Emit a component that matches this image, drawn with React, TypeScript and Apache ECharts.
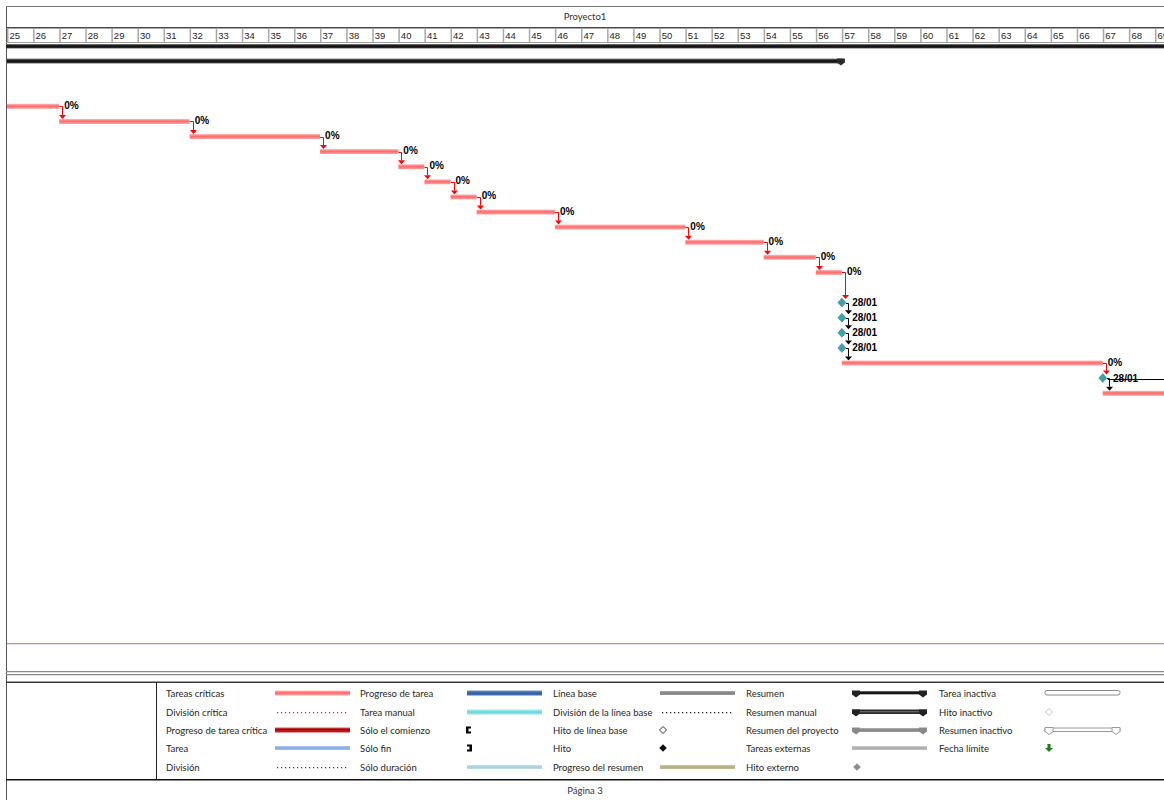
import React, { useEffect, useRef } from "react";
import * as echarts from "echarts";

// ---------- data ----------
const weeks = [25, 26, 27, 28, 29, 30, 31, 32, 33, 34, 35, 36, 37, 38, 39, 40, 41, 42, 43, 44, 45, 46, 47, 48, 49, 50, 51, 52, 53, 54, 55, 56, 57, 58, 59, 60, 61, 62, 63, 64, 65, 66, 67, 68, 69];

const taskRows = [3, 4, 5, 6, 7, 8, 9, 10, 11, 12, 13, 14, 20, 22];
const taskStarts = [23, 27, 32, 37, 40, 41, 42, 43, 46, 51, 54, 56, 57, 67];
const taskEnds = [27, 32, 37, 40, 41, 42, 43, 46, 51, 54, 56, 57, 67, 72];
// last bar continues on the next page: its label is not on this page
const taskLabels = ["0%", "0%", "0%", "0%", "0%", "0%", "0%", "0%", "0%", "0%", "0%", "0%", "0%", ""];

const summaryRows = [0];
const summaryStarts = [20];
const summaryEnds = [57];

const milestoneRows = [16, 17, 18, 19, 21];
const milestoneWeeks = [57, 57, 57, 57, 67];
const milestoneLabels = ["28/01", "28/01", "28/01", "28/01", "28/01"];

// kind: 0 = from critical task (red), 1 = from milestone (black), 2 = off-page link
const linkWeeks = [27, 32, 37, 40, 41, 42, 43, 46, 51, 54, 56, 57, 57, 57, 57, 57, 67, 67, 67];
const linkFrom = [3, 4, 5, 6, 7, 8, 9, 10, 11, 12, 13, 14, 16, 17, 18, 19, 20, 21, 21];
const linkTo = [4, 5, 6, 7, 8, 9, 10, 11, 12, 13, 14, 16, 17, 18, 19, 20, 21, 22, 21];
const linkKinds = [0, 0, 0, 0, 0, 0, 0, 0, 0, 0, 0, 0, 1, 1, 1, 1, 0, 1, 2];

const legendNames = [
  ["Tareas críticas", "División crítica", "Progreso de tarea crítica", "Tarea", "División"],
  ["Progreso de tarea", "Tarea manual", "Sólo el comienzo", "Sólo fin", "Sólo duración"],
  ["Línea base", "División de la línea base", "Hito de línea base", "Hito", "Progreso del resumen"],
  ["Resumen", "Resumen manual", "Resumen del proyecto", "Tareas externas", "Hito externo"],
  ["Tarea inactiva", "Hito inactivo", "Resumen inactivo", "Fecha límite"],
];
const legendKinds = [
  ["critBar", "critSplit", "critProg", "taskBar", "split"],
  ["progBar", "manualBar", "startOnly", "finishOnly", "durOnly"],
  ["baseBar", "baseSplit", "baseMile", "mile", "sumProg"],
  ["summary", "manualSummary", "projSummary", "external", "extMile"],
  ["inactiveTask", "inactiveMile", "inactiveSummary", "deadline"],
];

// ---------- layout constants ----------
const W = 1164;
const H = 800;
const ROW = 15.1;
const GRID_LEFT = 7;
const GRID_W = 1157;
const X_MIN = 25;
const X_MAX = 69.346;
const Y_MIN = -0.5;
const Y_MAX = 38.5;
const GRID_TOP = 61 + Y_MIN * ROW;

const LEG_FONT = "Lato";
const MONO = "Liberation Sans";

const grad = (stops: [number, string][]) =>
  new echarts.graphic.LinearGradient(0, 0, 0, 1, stops.map(([o, c]) => ({ offset: o, color: c })));

const critGrad = () => grad([[0, "#ffbcbc"], [0.45, "#ff6868"], [1, "#ffa4a4"]]);
const darkGrad = () => grad([[0, "#8a8a8a"], [0.35, "#1a1a1a"], [0.7, "#111"], [1, "#6a6a6a"]]);

function clip(r: any, cs: any) {
  return echarts.graphic.clipRectByRect(r, { x: cs.x, y: cs.y, width: cs.width, height: cs.height });
}

function capPoly(cx: number, top: number, color: string, stroke?: string) {
  const style: any = { fill: color };
  if (stroke) { style.stroke = stroke; style.lineWidth = 1; }
  return {
    type: "polygon",
    shape: { points: [[cx - 4, top], [cx + 4, top], [cx + 4, top + 4], [cx, top + 7], [cx - 4, top + 4]] },
    style,
  };
}

function diamond(cx: number, cy: number, r: number, fill: string, stroke?: string) {
  const style: any = { fill };
  if (stroke) { style.stroke = stroke; style.lineWidth = 1; }
  return {
    type: "polygon",
    shape: { points: [[cx, cy - r], [cx + r, cy], [cx, cy + r], [cx - r, cy]] },
    style,
  };
}

const hRect = (x1: number, x2: number, y: number, color: string, t = 1) => ({
  type: "rect", shape: { x: x1, y, width: x2 - x1, height: t }, style: { fill: color },
});
const vRect = (x: number, y1: number, y2: number, color: string, t = 1) => ({
  type: "rect", shape: { x, y: y1, width: t, height: y2 - y1 }, style: { fill: color },
});

function dottedRects(x1: number, x2: number, y: number, color: string): any[] {
  const out: any[] = [];
  for (let x = x1; x < x2; x += 4) out.push({ type: "rect", shape: { x, y, width: 1.2, height: 1.2 }, style: { fill: color } });
  return out;
}

function legendSample(kind: string, x: number, y: number, w: number): any[] {
  const bar = (h: number, fill: any) => ({
    type: "rect",
    shape: { x, y: y - h / 2, width: w, height: h },
    style: { fill },
  });
  switch (kind) {
    case "critBar":
      return [bar(5, critGrad())];
    case "critSplit":
      return dottedRects(x + 2, x + w - 2, y, "#e81c1c");
    case "critProg":
      return [bar(5, grad([[0, "#e05a5a"], [0.4, "#b00000"], [1, "#c03030"]]))];
    case "taskBar":
      return [bar(4, grad([[0, "#b4cdf4"], [0.5, "#7ea6e6"], [1, "#a9c5f0"]]))];
    case "split":
      return dottedRects(x + 2, x + w - 2, y, "#2424c0");
    case "progBar":
      return [bar(5, grad([[0, "#6d93c8"], [0.5, "#2f5e9e"], [1, "#4a74b0"]]))];
    case "manualBar":
      return [bar(5, grad([[0, "#a8eeee"], [0.5, "#6ad8dc"], [1, "#98e6e8"]]))];
    case "startOnly":
      return [{
        type: "polygon",
        shape: { points: [[x - 1, y - 3.5], [x + 4, y - 3.5], [x + 4, y - 1.5], [x + 1.5, y - 1.5], [x + 1.5, y + 1.5], [x + 4, y + 1.5], [x + 4, y + 3.5], [x - 1, y + 3.5]] },
        style: { fill: "#000" },
      }];
    case "finishOnly":
      return [{
        type: "polygon",
        shape: { points: [[x + 5, y - 3.5], [x, y - 3.5], [x, y - 1.5], [x + 2.5, y - 1.5], [x + 2.5, y + 1.5], [x, y + 1.5], [x, y + 3.5], [x + 5, y + 3.5]] },
        style: { fill: "#000" },
      }];
    case "durOnly":
      return [bar(4, grad([[0, "#c6e4ea"], [0.5, "#a3d0da"], [1, "#bcdfe6"]]))];
    case "baseBar":
      return [bar(4, grad([[0, "#a8a8a8"], [0.5, "#808080"], [1, "#9a9a9a"]]))];
    case "baseSplit":
      return dottedRects(x + 2, x + w - 2, y, "#111");
    case "baseMile":
      return [diamond(x + 3, y, 3.5, "#fff", "#333")];
    case "mile":
      return [diamond(x + 3, y, 3.8, "#111")];
    case "sumProg":
      return [bar(4, grad([[0, "#d2cba8"], [0.5, "#b3a979"], [1, "#c6be98"]]))];
    case "summary":
      return [
        { type: "rect", shape: { x, y: y - 2, width: w, height: 3.5 }, style: { fill: darkGrad() } },
        capPoly(x + 4, y - 2.5, "#222"),
        capPoly(x + w - 4, y - 2.5, "#222"),
      ];
    case "manualSummary":
      return [
        { type: "rect", shape: { x, y: y - 2.5, width: w, height: 4.5 }, style: { fill: "#2a2a2a" } },
        hRect(x + 4, x + w - 4, y - 0.8, "#7a7a7a", 1),
        capPoly(x + 4, y - 2.5, "#222"),
        capPoly(x + w - 4, y - 2.5, "#222"),
      ];
    case "projSummary":
      return [
        { type: "rect", shape: { x, y: y - 2, width: w, height: 4 }, style: { fill: grad([[0, "#b5b5b5"], [0.5, "#808080"], [1, "#a0a0a0"]]) } },
        capPoly(x + 4, y - 2.5, "#8a8a8a"),
        capPoly(x + w - 4, y - 2.5, "#8a8a8a"),
      ];
    case "external":
      return [bar(4, grad([[0, "#cfcfcf"], [0.5, "#a9a9a9"], [1, "#c4c4c4"]]))];
    case "extMile":
      return [diamond(x + 5, y, 3.8, "#8f8f8f")];
    case "inactiveTask":
      return [{ type: "rect", shape: { x, y: y - 2.5, width: w, height: 4.5, r: 2 }, style: { fill: "#fff", stroke: "#8a8a8a", lineWidth: 1 } }];
    case "inactiveMile":
      return [diamond(x + 4, y, 3.5, "#fff", "#c4c4c4")];
    case "inactiveSummary":
      return [
        { type: "rect", shape: { x, y: y - 2, width: w, height: 3.5 }, style: { fill: "#fff", stroke: "#999", lineWidth: 1 } },
        capPoly(x + 4, y - 2.5, "#fff", "#999"),
        capPoly(x + w - 4, y - 2.5, "#fff", "#999"),
      ];
    case "deadline":
      return [{
        type: "polygon",
        shape: { points: [[x + 2.5, y - 4], [x + 5.5, y - 4], [x + 5.5, y], [x + 8, y], [x + 4, y + 4], [x, y], [x + 2.5, y]] },
        style: { fill: "#1f7f1f" },
      }];
  }
  return [];
}

function buildGraphic(): any[] {
  const els: any[] = [];
  const push = (e: any) => els.push({ ...e, silent: true });

  // frame
  push(vRect(6, 6, H, "#555", 1));
  push(hRect(6, W, 6, "#7a7a7a", 1));
  // title
  push({
    type: "text",
    style: { text: "Proyecto1", x: 585, y: 16.5, fill: "#333", fontFamily: LEG_FONT, fontSize: 9.5, textAlign: "center", align: "center", textVerticalAlign: "middle", verticalAlign: "middle" },
  });
  // timescale borders
  push(hRect(6, W, 27, "#4a4a4a", 1.5));
  push(hRect(6, W, 42, "#a0a0a0", 1));
  push({ type: "rect", shape: { x: 6, y: 44, width: W - 6, height: 4.5 }, style: { fill: darkGrad() } });

  // page break / bottom of gantt
  push(hRect(7, W, 643, "#f47e7e", 1.2));
  push(hRect(6, W, 671, "#8a8a8a", 1.2));
  push(hRect(6, W, 674, "#8a8a8a", 1.2));
  push(hRect(6, W, 681.5, "#3a3a3a", 1.5));
  push(vRect(156, 682, 779, "#222", 1));
  push(hRect(6, W, 779, "#111", 1.5));

  // legend
  const textX = [166, 360, 553, 746, 939];
  const sampleX = [275, 467, 660, 852, 1045];
  const rowY = [693, 712, 730, 748, 767];
  legendNames.forEach((col, ci) => {
    col.forEach((name, ri) => {
      push({
        type: "text",
        style: { text: name, x: textX[ci], y: rowY[ri], fill: "#262626", fontFamily: LEG_FONT, fontSize: 9.5, textVerticalAlign: "middle", verticalAlign: "middle" },
      });
      legendSample(legendKinds[ci][ri], sampleX[ci], rowY[ri], 75).forEach((e) => push(e));
    });
  });

  push({
    type: "text",
    style: { text: "Página 3", x: 585, y: 790, fill: "#333", fontFamily: LEG_FONT, fontSize: 9.5, textAlign: "center", align: "center", textVerticalAlign: "middle", verticalAlign: "middle" },
  });
  return els;
}

export default function App() {
  const ref = useRef<HTMLDivElement>(null);

  useEffect(() => {
    if (!ref.current) return;
    const chart = echarts.init(ref.current, undefined, { renderer: "svg" });

    const option: any = {
      animation: false,
      backgroundColor: "#ffffff",
      grid: [
        { left: GRID_LEFT, width: GRID_W, top: GRID_TOP, height: (Y_MAX - Y_MIN) * ROW },
        { left: GRID_LEFT, width: GRID_W, top: 28.5, height: 13.5 },
      ],
      xAxis: [
        { type: "value", gridIndex: 0, min: X_MIN, max: X_MAX, show: false },
        { type: "value", gridIndex: 1, min: X_MIN, max: X_MAX, show: false },
      ],
      yAxis: [
        { type: "value", gridIndex: 0, min: Y_MIN, max: Y_MAX, inverse: true, show: false },
        { type: "value", gridIndex: 1, min: 0, max: 1, show: false },
      ],
      graphic: buildGraphic(),
      series: [
        // timescale header
        {
          type: "custom",
          xAxisIndex: 1,
          yAxisIndex: 1,
          silent: true,
          data: weeks.map((w) => [w]),
          renderItem: (params: any, api: any) => {
            const w = api.value(0);
            const p0 = api.coord([w, 0]);
            const cs = params.coordSys;
            return {
              type: "group",
              children: [
                { type: "rect", shape: { x: p0[0], y: cs.y, width: 1.5, height: cs.height }, style: { fill: "#a8a8a8" } },
                {
                  type: "text",
                  style: { text: String(w), x: p0[0] + 2.5, y: cs.y + cs.height / 2 + 0.5, fill: "#1e1e1e", fontFamily: MONO, fontSize: 9.5, textVerticalAlign: "middle", verticalAlign: "middle" },
                },
              ],
            };
          },
        },
        // summary bar
        {
          type: "custom",
          xAxisIndex: 0,
          yAxisIndex: 0,
          silent: true,
          data: summaryRows.map((r, i) => [r, summaryStarts[i], summaryEnds[i]]),
          renderItem: (params: any, api: any) => {
            const r = api.value(0);
            const p0 = api.coord([api.value(1), r]);
            const p1 = api.coord([api.value(2), r]);
            const rect = clip({ x: p0[0], y: p0[1] - 2.5, width: p1[0] - p0[0], height: 5 }, params.coordSys);
            return {
              type: "group",
              children: [
                { type: "rect", shape: rect, style: { fill: darkGrad() } },
                capPoly(p1[0] - 1, p1[1] - 2.5, "#2a2a2a"),
              ],
            };
          },
        },
        // links
        {
          type: "custom",
          xAxisIndex: 0,
          yAxisIndex: 0,
          silent: true,
          data: linkWeeks.map((w, i) => [w, linkFrom[i], linkTo[i], linkKinds[i]]),
          renderItem: (params: any, api: any) => {
            const w = api.value(0);
            const r1 = api.value(1);
            const r2 = api.value(2);
            const k = api.value(3);
            const p = api.coord([w, r1]);
            const x0 = p[0];
            const y1 = p[1];
            const y2 = api.coord([w, r2])[1];
            if (k === 2) {
              return { type: "line", shape: { x1: x0 + 5, y1: Math.round(y1) + 1.5, x2: x0 + 300, y2: Math.round(y1) + 1.5 }, style: { stroke: "#000", lineWidth: 1 } };
            }
            const color = k === 0 ? "#ff0000" : "#000000";
            const startX = k === 0 ? x0 : x0 + 4;
            const x = Math.round(x0 + (k === 0 ? 3 : 6)) + 0.5;
            const tip = y2 - (milestoneRows.indexOf(r2) >= 0 ? 3.5 : 2.5);
            const base = tip - 4;
            return {
              type: "group",
              children: [
                { type: "polyline", shape: { points: [[startX, Math.round(y1) + 0.5], [x, Math.round(y1) + 0.5], [x, base]] }, style: { stroke: color, lineWidth: 1, fill: null } },
                { type: "polygon", shape: { points: [[x - 3.5, base], [x + 3.5, base], [x, tip]] }, style: { fill: color } },
              ],
            };
          },
        },
        // task bars
        {
          type: "custom",
          xAxisIndex: 0,
          yAxisIndex: 0,
          silent: true,
          data: taskRows.map((r, i) => [r, taskStarts[i], taskEnds[i]]),
          renderItem: (params: any, api: any) => {
            const r = api.value(0);
            const p0 = api.coord([api.value(1), r]);
            const p1 = api.coord([api.value(2), r]);
            const label = taskLabels[params.dataIndex];
            const rect = clip({ x: p0[0], y: p0[1] - 2.5, width: p1[0] - p0[0], height: 5 }, params.coordSys);
            const children: any[] = [{ type: "rect", shape: rect, style: { fill: critGrad() } }];
            if (label) {
              children.push({
                type: "text",
                style: { text: label, x: p1[0] + 5, y: p1[1] - 1, fill: "#000", fontFamily: MONO, fontSize: 10, fontWeight: "bold", textVerticalAlign: "middle", verticalAlign: "middle" },
              });
            }
            return { type: "group", children };
          },
        },
        // milestones
        {
          type: "scatter",
          xAxisIndex: 0,
          yAxisIndex: 0,
          silent: true,
          symbol: "diamond",
          symbolSize: [8, 9],
          data: milestoneWeeks.map((w, i) => [w, milestoneRows[i], milestoneLabels[i]]),
          itemStyle: { color: "#3fa2a8", borderColor: "#2a7a80", borderWidth: 0.5, opacity: 1 },
          label: {
            show: true,
            position: "right",
            distance: 6,
            formatter: (p: any) => p.data[2],
            fontFamily: MONO,
            fontSize: 10,
            fontWeight: "bold",
            color: "#000",
          },
          z: 5,
        },
      ],
    };

    chart.setOption(option);
    return () => chart.dispose();
  }, []);

  return <div ref={ref} style={{ position: "absolute", left: 0, top: 0, width: W, height: H, background: "#fff" }} />;
}
